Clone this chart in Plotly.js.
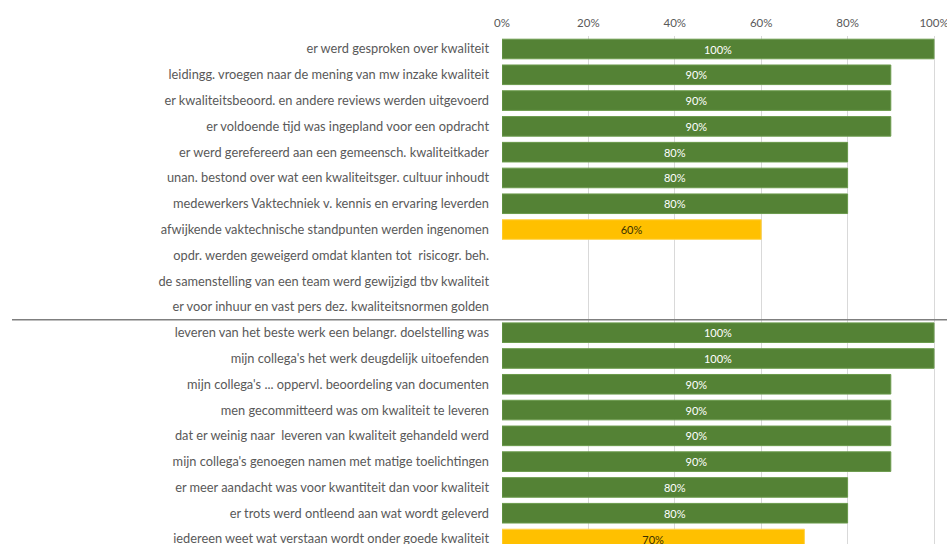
<!DOCTYPE html>
<html>
<head>
<meta charset="utf-8">
<script src="https://cdn.plot.ly/plotly-3.0.1.min.js"></script>
<style>html,body{margin:0;padding:0;background:#fff;overflow:hidden;}#chart{width:947px;height:566px;}</style>
</head>
<body>
<div id="chart"></div>
<script>
const categories = [
  "er werd gesproken over kwaliteit",
  "leidingg. vroegen naar de mening van mw inzake kwaliteit",
  "er kwaliteitsbeoord. en andere reviews werden uitgevoerd",
  "er voldoende tijd was ingepland voor een opdracht",
  "er werd gerefereerd aan een gemeensch. kwaliteitkader",
  "unan. bestond over wat een kwaliteitsger. cultuur inhoudt",
  "medewerkers Vaktechniek v. kennis en ervaring leverden",
  "afwijkende vaktechnische standpunten werden ingenomen",
  "opdr. werden geweigerd omdat klanten tot  risicogr. beh.",
  "de samenstelling van een team werd gewijzigd tbv kwaliteit",
  "er voor inhuur en vast pers dez. kwaliteitsnormen golden",
  "leveren van het beste werk een belangr. doelstelling was",
  "mijn collega's het werk deugdelijk uitoefenden",
  "mijn collega's ... oppervl. beoordeling van documenten",
  "men gecommitteerd was om kwaliteit te leveren",
  "dat er weinig naar  leveren van kwaliteit gehandeld werd",
  "mijn collega's genoegen namen met matige toelichtingen",
  "er meer aandacht was voor kwantiteit dan voor kwaliteit",
  "er trots werd ontleend aan wat wordt geleverd",
  "iedereen weet wat verstaan wordt onder goede kwaliteit"
];
const values = [1.0, 0.9, 0.9, 0.9, 0.8, 0.8, 0.8, 0.6, null, null, null,
                1.0, 1.0, 0.9, 0.9, 0.9, 0.9, 0.8, 0.8, 0.7];
const tickVals = [0, 0.2, 0.4, 0.6, 0.8, 1.0];
const tickText = ["0%", "20%", "40%", "60%", "80%", "100%"];
const groupBreakAfter = 10; // index of last row in first group

const GREEN = "#548235", YELLOW = "#FFC000";
const colors = values.map(v => (v !== null && v >= 0.8) ? GREEN : YELLOW);
const textColors = values.map(v => (v !== null && v >= 0.8) ? "#ffffff" : "#3a3000");
const texts = values.map(v => v === null ? "" : Math.round(v * 100) + "%");

const H = 566, T = 36, L = 502, R = 10;
const plotW = 947 - L - R;
const xMax = plotW / 432;           // 100% lands 432px right of the axis origin
const yRange = [(H - 49) / 25.79, -0.504];
const sepPos = groupBreakAfter + 0.5;
const sepPaper = (yRange[0] - sepPos) / (yRange[0] - yRange[1]);
const FONT = "Lato, 'Liberation Sans', Arial, sans-serif";

const trace = {
  type: "bar",
  orientation: "h",
  y: categories.map((c, i) => i),
  x: values,
  marker: { color: colors, line: { width: 1, color: colors.map(c => c === GREEN ? "#6b9a4c" : "#ffd34d") } },
  text: texts,
  textposition: "inside",
  insidetextanchor: "middle",
  textangle: 0,
  textfont: { family: FONT, size: 11, color: textColors },
  cliponaxis: false,
  hoverinfo: "skip",
  width: 0.76
};

const layout = {
  width: 947, height: H,
  margin: { l: L, r: R, t: T, b: 0 },
  paper_bgcolor: "#ffffff", plot_bgcolor: "#ffffff",
  showlegend: false,
  font: { family: FONT, color: "#595959", size: 12 },
  xaxis: {
    side: "top", range: [0, xMax], tickvals: tickVals, ticktext: tickText,
    showgrid: true, gridcolor: "#d9d9d9", gridwidth: 1,
    zeroline: false, showline: false, ticks: "", fixedrange: true,
    tickfont: { size: 11.5, color: "#595959" }, ticklabelstandoff: 6,
    ticklabeloverflow: "allow"
  },
  yaxis: {
    range: yRange, tickmode: "array",
    tickvals: categories.map((c, i) => i), ticktext: categories,
    showgrid: false, zeroline: false, showline: false, ticks: "",
    ticklabelstandoff: 12, ticklabeloverflow: "allow",
    tickfont: { size: 12.8, color: "#595959" }
  },
  shapes: [{
    type: "line", xref: "paper", yref: "paper",
    x0: (12 - L) / plotW, x1: (947 - L) / plotW,
    y0: sepPaper, y1: sepPaper,
    line: { color: "#7f7f7f", width: 1.5 }
  }]
};

Plotly.newPlot("chart", [trace], layout, { displayModeBar: false, staticPlot: true });
</script>
</body>
</html>
